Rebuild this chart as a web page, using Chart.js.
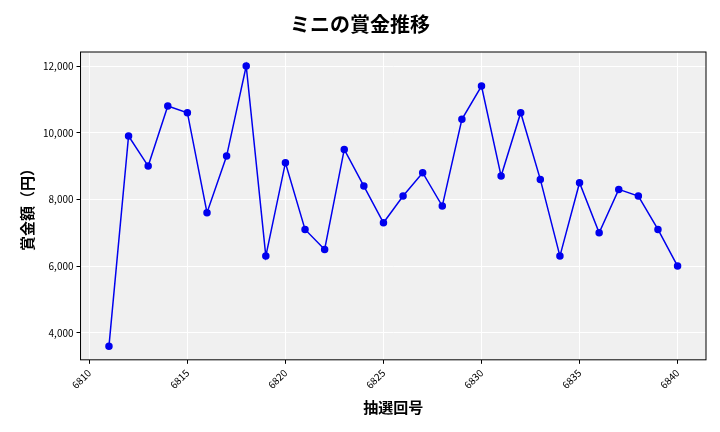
<!DOCTYPE html>
<html><head><meta charset="utf-8">
<script src="https://cdn.jsdelivr.net/npm/chart.js@4"></script>
<style>body{margin:0;background:#fff}#w{width:720px;height:432px}</style>
</head><body><div id="w"><canvas id="c"></canvas></div>
<script>
const draws=[6811,6812,6813,6814,6815,6816,6817,6818,6819,6820,6821,6822,6823,6824,6825,6826,6827,6828,6829,6830,6831,6832,6833,6834,6835,6836,6837,6838,6839,6840];
const prizes=[3600,9900,9000,10800,10600,7600,9300,12000,6300,9100,7100,6500,9500,8400,7300,8100,8800,7800,10400,11400,8700,10600,8600,6300,8500,7000,8300,8100,7100,6000];
const xTicks=[6810,6815,6820,6825,6830,6835,6840];
const yTicks=[4000,6000,8000,10000,12000];
const F="'Noto Sans CJK JP', sans-serif";
const bg={id:'bg',beforeDraw(c){const a=c.chartArea,x=c.ctx;x.save();x.fillStyle='#f0f0f0';x.fillRect(a.left,a.top,a.right-a.left,a.bottom-a.top);x.restore();},
afterDraw(c){const a=c.chartArea,x=c.ctx;x.save();x.strokeStyle='#000';x.lineWidth=1;x.strokeRect(a.left,a.top,a.right-a.left,a.bottom-a.top);x.restore();}};
new Chart(document.getElementById('c'),{type:'line',
data:{datasets:[{data:draws.map((d,i)=>({x:d,y:prizes[i]})),borderColor:'#0000ee',backgroundColor:'#0000ee',borderWidth:1.5,pointRadius:3,pointHoverRadius:3,tension:0}]},
options:{responsive:true,maintainAspectRatio:false,animation:false,
layout:{padding:{left:14,right:14,top:6,bottom:12}},
plugins:{legend:{display:false},tooltip:{enabled:false},
title:{display:true,text:'ミニの賞金推移',font:{family:F,size:20,weight:'bold'},color:'#000',padding:{top:6,bottom:16}}},
scales:{
x:{type:'linear',min:6809.55,max:6841.45,
afterBuildTicks(s){s.ticks=xTicks.map(v=>({value:v}));},
ticks:{maxRotation:45,minRotation:45,font:{family:F,size:10},color:'#000',callback:v=>String(v)},
grid:{color:'#ffffff',lineWidth:1,drawTicks:true,tickColor:'#000',tickLength:4},border:{display:false},
title:{display:true,text:'抽選回号',font:{family:F,size:15,weight:'bold'},color:'#000'}},
y:{min:3190,max:12420,
afterBuildTicks(s){s.ticks=yTicks.map(v=>({value:v}));},
ticks:{font:{family:F,size:10},color:'#000',callback:v=>v.toLocaleString('en-US')},
grid:{color:'#ffffff',lineWidth:1,tickColor:'#000',tickLength:4},border:{display:false},
title:{display:true,text:'賞金額（円）',font:{family:F,size:15,weight:'bold'},color:'#000'}}}},
plugins:[bg]});
</script></body></html>
